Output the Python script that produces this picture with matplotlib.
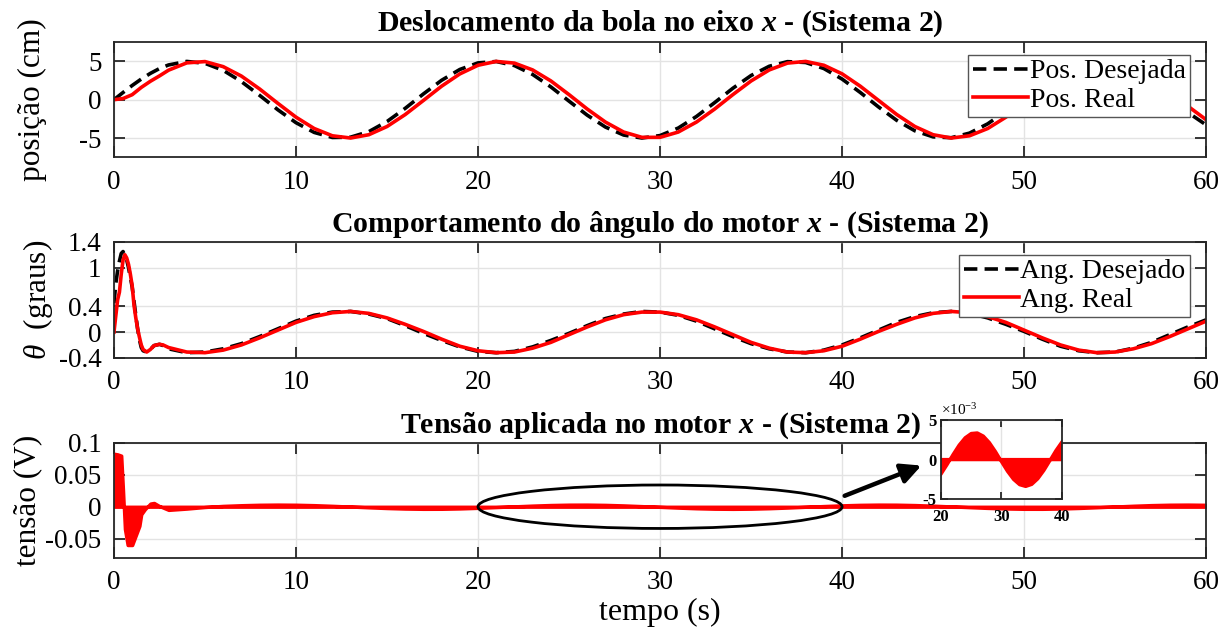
import matplotlib.pyplot as plt
from matplotlib.patches import Ellipse
import numpy as np

plt.rcParams['font.family'] = ['Liberation Serif', 'DejaVu Serif']
plt.rcParams['mathtext.fontset'] = 'custom'
plt.rcParams['mathtext.rm'] = 'Liberation Serif'
plt.rcParams['mathtext.it'] = 'Liberation Serif:italic'
plt.rcParams['mathtext.bf'] = 'Liberation Serif:bold'
plt.rcParams['mathtext.bfit'] = 'Liberation Serif:bold:italic'

# ---- posicao da bola (cm) ----
t_pos = [0, 0.5, 1, 1.5, 2, 2.5, 3] + list(range(4, 61))
pos_desejada = [0, 0.94, 1.85, 2.69, 3.43, 4.06, 4.53,
                4.99, 4.74, 3.83, 2.36, 0.57, -1.31, -3.00, -4.27, -4.93, -4.89,
                -4.17, -2.85, -1.13, 0.75, 2.53, 3.94, 4.80, 4.98, 4.45, 3.29,
                1.67, -0.19, -2.02, -3.57, -4.61, -5.00, -4.68, -3.70, -2.19, -0.38,
                1.49, 3.15, 4.36, 4.96, 4.85, 4.06, 2.69, 0.94, -0.94, -2.69,
                -4.06, -4.85, -4.96, -4.36, -3.15, -1.49, 0.38, 2.19, 3.70, 4.68,
                5.00, 4.61, 3.57, 2.02, 0.19, -1.67, -3.29]
pos_real = [0, 0.15, 0.65, 1.6, 2.4, 3.1, 3.85,
            4.8, 4.97, 4.31, 3.08, 1.40, -0.47, -2.28, -3.76, -4.71, -5.00,
            -4.57, -3.50, -1.94, -0.10, 1.76, 3.36, 4.49, 4.99, 4.77, 3.88,
            2.45, 0.66, -1.22, -2.92, -4.22, -4.91, -4.91, -4.22, -2.92, -1.22,
            0.66, 2.44, 3.88, 4.77, 4.99, 4.49, 3.37, 1.76, -0.09, -1.93,
            -3.50, -4.57, -5.00, -4.71, -3.76, -2.28, -0.47, 1.40, 3.07, 4.31,
            4.94, 4.87, 4.11, 2.77, 1.04, -0.85, -2.61]

# ---- angulo do motor (graus) ----
t_ang = [0, 0.1, 0.2, 0.3, 0.4, 0.5, 0.6, 0.7, 0.8, 0.9, 1.0, 1.1, 1.2,
         1.3, 1.4, 1.5, 1.6, 1.8, 2.0, 2.2, 2.5, 2.7, 3.0] + list(range(4, 61))
ang_desejado = [0.45, 0.75, 0.95, 1.1, 1.22, 1.25, 1.18, 1.12, 1.0, 0.85, 0.7,
                0.48, 0.26, 0.05, -0.12, -0.24, -0.29, -0.31, -0.27, -0.21,
                -0.19, -0.21, -0.26,
                -0.32, -0.31, -0.26, -0.18, -0.07, 0.05, 0.17, 0.26, 0.31, 0.32,
                0.28, 0.21, 0.10, -0.02, -0.13, -0.23, -0.30, -0.32, -0.30, -0.23,
                -0.13, -0.02, 0.10, 0.21, 0.28, 0.32, 0.31, 0.26, 0.17, 0.05,
                -0.07, -0.18, -0.26, -0.31, -0.32, -0.28, -0.20, -0.09, 0.03, 0.15,
                0.24, 0.30, 0.32, 0.29, 0.22, 0.12, 0.01, -0.11, -0.22, -0.29,
                -0.32, -0.31, -0.25, -0.16, -0.04, 0.08, 0.19]
ang_real = [0.0, 0.25, 0.5, 0.62, 0.9, 1.12, 1.2, 1.15, 1.05, 0.9, 0.72,
            0.42, 0.22, 0.05, -0.08, -0.2, -0.27, -0.31, -0.27, -0.21,
            -0.19, -0.2, -0.24,
            -0.31, -0.32, -0.28, -0.20, -0.09, 0.03, 0.15, 0.24, 0.30, 0.32,
            0.29, 0.22, 0.12, 0.01, -0.11, -0.22, -0.29, -0.32, -0.31, -0.25,
            -0.16, -0.04, 0.08, 0.19, 0.27, 0.31, 0.31, 0.27, 0.19, 0.08,
            -0.04, -0.16, -0.25, -0.31, -0.32, -0.29, -0.22, -0.11, 0.01, 0.12,
            0.22, 0.29, 0.32, 0.30, 0.24, 0.15, 0.03, -0.09, -0.20, -0.28,
            -0.32, -0.31, -0.26, -0.18, -0.07, 0.05, 0.17]

# ---- tensao aplicada (envoltoria do chaveamento, em mV) ----
t_volt = [0, 0.2, 0.4, 0.5, 0.6, 0.75, 1.0, 1.2, 1.4, 1.5, 1.7, 2.0, 2.2,
          2.5, 3.0, 3.5] + list(range(4, 61))
volt_mv = [83, 82, 80, 25, -35, -60, -60, -45, -30, -12, -4, 5, 6, 1, -5, -4,
           -3, -0.5, 1.38, 2.43, 3.14, 3.40, 3.18, 2.52, 1.49, 0.26, -1.01,
           -2.14, -2.96, -3.37, -3.30, -2.76, -1.84, -0.64, 0.64, 1.83, 2.76,
           3.30, 3.37, 2.97, 2.14, 1.01, -0.26, -1.49, -2.51, -3.18, -3.40,
           -3.14, -2.43, -1.38, -0.13, 1.14, 2.24, 3.03, 3.38, 3.27, 2.68,
           1.72, 0.51, -0.77, -1.94, -2.83, -3.33, -3.35, -2.90, -2.04, -0.89,
           0.38, 1.61, 2.60, 3.22, 3.39, 3.08]

x_ticks = [0, 10, 20, 30, 40, 50, 60]
GRID = '#e3e3e3'
AX_COLOR = '#262626'


def style_axes(ax, tick_size=19.5):
    ax.grid(True, color=GRID, lw=1)
    ax.set_axisbelow(True)
    ax.tick_params(direction='in', top=True, right=True, length=8, width=1.3,
                   color=AX_COLOR, labelsize=tick_size, pad=9)
    for s in ax.spines.values():
        s.set_color(AX_COLOR)
        s.set_linewidth(1.3)


fig = plt.figure(figsize=(12.32, 6.39), dpi=100)
left, width = 0.0925, 0.8865
ax1 = fig.add_axes([left, 0.754, width, 0.180])
ax2 = fig.add_axes([left, 0.440, width, 0.1815])
ax3 = fig.add_axes([left, 0.127, width, 0.180])

dash = (3.7, 2.0)
title_size = 21.5
ylab_size = 22.5

# posicao
ax1.plot(t_pos, pos_desejada, color='k', lw=2.6, ls='--', dashes=dash, label='Pos. Desejada')
ax1.plot(t_pos, pos_real, color='#ff0000', lw=2.6, label='Pos. Real')
ax1.set_xlim(0, 60)
ax1.set_ylim(-7.5, 7.5)
ax1.set_xticks(x_ticks)
ax1.set_yticks([-5, 0, 5])
ax1.set_yticklabels(['-5', '0', '5'])
style_axes(ax1)
ax1.set_title(r'Deslocamento da bola no eixo $\mathbfit{x}$ - (Sistema 2)',
              fontsize=title_size, fontweight='bold', pad=8)
ax1.set_ylabel('posição (cm)', fontsize=ylab_size)
ax1.yaxis.set_label_coords(-0.061, 0.5)
leg = ax1.legend(loc='upper right', bbox_to_anchor=(0.985, 0.89), borderaxespad=0,
                 fontsize=20, fancybox=False, edgecolor='#555555', framealpha=1,
                 handlelength=2.0, handletextpad=0.05, borderpad=0.15,
                 labelspacing=0.1)
leg.get_frame().set_linewidth(1)

# angulo
ax2.plot(t_ang, ang_desejado, color='k', lw=2.6, ls='--', dashes=dash, label='Ang. Desejado')
ax2.plot(t_ang, ang_real, color='#ff0000', lw=2.6, label='Ang. Real')
ax2.set_xlim(0, 60)
ax2.set_ylim(-0.4, 1.4)
ax2.set_xticks(x_ticks)
ax2.set_yticks([-0.4, 0, 0.4, 1, 1.4])
ax2.set_yticklabels(['-0.4', '0', '0.4', '1', '1.4'])
style_axes(ax2)
ax2.set_title(r'Comportamento do ângulo do motor $\mathbfit{x}$ - (Sistema 2)',
              fontsize=title_size, fontweight='bold', pad=7)
ax2.set_ylabel(r'$\theta$  (graus)', fontsize=ylab_size)
ax2.yaxis.set_label_coords(-0.054, 0.5)
leg = ax2.legend(loc='upper right', bbox_to_anchor=(0.985, 0.888), borderaxespad=0,
                 fontsize=20, fancybox=False, edgecolor='#555555', framealpha=1,
                 handlelength=2.0, handletextpad=0.05, borderpad=0.15,
                 labelspacing=0.1)
leg.get_frame().set_linewidth(1)

# tensao
volt = np.array(volt_mv) * 1e-3
ax3.fill_between(t_volt, 0, volt, color='#ff0000', lw=2.4, edgecolor='#ff0000')
ax3.set_xlim(0, 60)
ax3.set_ylim(-0.08, 0.1)
ax3.set_xticks(x_ticks)
ax3.set_yticks([-0.05, 0, 0.05, 0.1])
ax3.set_yticklabels(['-0.05', '0', '0.05', '0.1'])
style_axes(ax3)
ax3.set_title(r'Tensão aplicada no motor $\mathbfit{x}$ - (Sistema 2)',
              fontsize=title_size, fontweight='bold', pad=7)
ax3.set_ylabel('tensão (V)', fontsize=ylab_size)
ax3.yaxis.set_label_coords(-0.066, 0.5)
ax3.set_xlabel('tempo (s)', fontsize=23, labelpad=2)

ax3.add_patch(Ellipse((30, 0), 20, 0.068, fill=False, ec='k', lw=2))
ax3.annotate('', xy=(44.5, 0.066), xytext=(40.0, 0.0155),
             arrowprops=dict(arrowstyle='-|>', lw=3.2, color='k', mutation_scale=30),
             annotation_clip=False)

# detalhe
axin = fig.add_axes([0.7638, 0.219, 0.0982, 0.1236])
axin.fill_between(t_volt, 0, volt_mv, color='#ff0000', lw=2.4, edgecolor='#ff0000')
axin.set_xlim(20, 40)
axin.set_ylim(-5, 5)
axin.set_xticks([20, 30, 40])
axin.set_yticks([-5, 0, 5])
axin.set_yticklabels(['-5', '0', '5'])
style_axes(axin, tick_size=12)
axin.tick_params(length=5, pad=3)
axin.tick_params(axis='x', pad=7)
for lab in axin.get_xticklabels() + axin.get_yticklabels():
    lab.set_fontweight('bold')
axin.text(0.0, 1.02, r'$\times 10^{-3}$', transform=axin.transAxes,
          fontsize=11, ha='left', va='bottom')

fig.savefig('out.png', dpi=100)
